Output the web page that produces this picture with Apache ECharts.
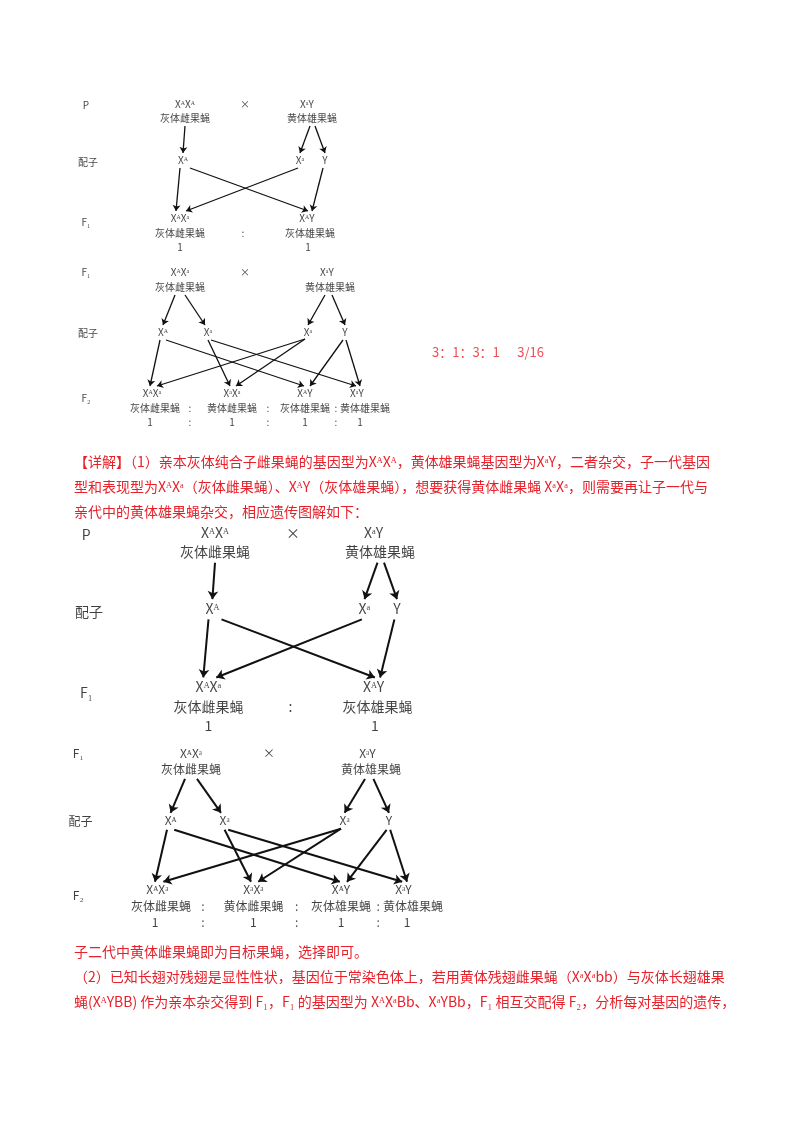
<!DOCTYPE html>
<html>
<head>
<meta charset="UTF-8">
<script src="https://cdn.jsdelivr.net/npm/echarts@6/dist/echarts.min.js"></script>
<style>html,body{margin:0;background:#fff}</style>
</head>
<body>
<div id="main" style="width:800px;height:1132px;"></div>
<script>
// 图解一：亲本杂交（小图坐标）
var cross1Labels = [
  [86, 105, 'P'], [185, 104, 'XᴬXᴬ'], [185, 118, '灰体雌果蝇'], [245, 104, '×'],
  [307, 104, 'XᵃY'], [312, 118, '黄体雄果蝇'],
  [88, 162, '配子'], [183, 160, 'Xᴬ'], [300, 160, 'Xᵃ'], [325, 160, 'Y'],
  [86, 222, 'F₁'], [180, 218, 'XᴬXᵃ'], [180, 233, '灰体雌果蝇'], [180, 247, '1'],
  [243, 233, ':'], [307, 218, 'XᴬY'], [310, 233, '灰体雄果蝇'], [308, 247, '1']
];
var cross1Arrows = [
  [[185, 126], [183, 153]], [[310, 126], [300, 153]], [[315, 126], [325, 153]],
  [[180, 168], [176, 211]], [[190, 168], [308, 211]], [[298, 168], [186, 211]], [[323, 168], [312, 211]]
];
// 图解二：F1 相互交配
var cross2Labels = [
  [86, 272, 'F₁'], [180, 272, 'XᴬXᵃ'], [180, 287, '灰体雌果蝇'], [245, 272, '×'],
  [327, 272, 'XᵃY'], [330, 287, '黄体雄果蝇'],
  [88, 333, '配子'], [163, 332, 'Xᴬ'], [208, 332, 'Xᵃ'], [308, 332, 'Xᵃ'], [345, 332, 'Y'],
  [86, 398, 'F₂'],
  [152, 393, 'XᴬXᵃ'], [155, 408, '灰体雌果蝇'], [150, 422, '1'],
  [232, 393, 'XᵃXᵃ'], [232, 408, '黄体雌果蝇'], [232, 422, '1'],
  [305, 393, 'XᴬY'], [305, 408, '灰体雄果蝇'], [305, 422, '1'],
  [357, 393, 'XᵃY'], [365, 408, '黄体雄果蝇'], [360, 422, '1'],
  [190, 408, ':'], [190, 422, ':'], [268, 408, ':'], [268, 422, ':'], [336, 408, ':'], [336, 422, ':']
];
var cross2Arrows = [
  [[175, 295], [163, 325]], [[185, 295], [205, 325]], [[325, 295], [308, 325]], [[332, 295], [345, 325]],
  [[160, 340], [150, 386]], [[166, 340], [304, 386]], [[208, 340], [230, 386]], [[211, 340], [356, 386]],
  [[305, 339], [157, 386]], [[305, 339], [236, 386]], [[343, 340], [310, 386]], [[346, 340], [360, 386]]
];
var answerText = '3：1：3：1      3/16';

var para1 = [
  '【详解】（1）亲本灰体纯合子雌果蝇的基因型为XᴬXᴬ，黄体雄果蝇基因型为XᵃY，二者杂交，子一代基因',
  '型和表现型为XᴬXᵃ（灰体雌果蝇）、XᴬY（灰体雄果蝇），想要获得黄体雌果蝇 XᵃXᵃ，则需要再让子一代与',
  '亲代中的黄体雄果蝇杂交，相应遗传图解如下：'
];
var para2 = [
  '子二代中黄体雌果蝇即为目标果蝇，选择即可。',
  '（2）已知长翅对残翅是显性性状，基因位于常染色体上，若用黄体残翅雌果蝇（XᵃXᵃbb）与灰体长翅雄果',
  '蝇(XᴬYBB) 作为亲本杂交得到 F₁，F₁ 的基因型为 XᴬXᵃBb、XᵃYBb，F₁ 相互交配得 F₂，分析每对基因的遗传，'
];

function place(list, sx, ax, sy, ay) {
  return list.map(function (p) { return { name: p[2], value: [ax + sx * p[0], ay + sy * p[1]] }; });
}
function placeLines(list, sx, ax, sy, ay) {
  return list.map(function (l) {
    return { coords: l.map(function (p) { return [ax + sx * p[0], ay + sy * p[1]]; }) };
  });
}
function textSeries(data, size, color) {
  return {
    type: 'scatter', symbolSize: 0, data: data, silent: true,
    label: { show: true, position: 'inside', formatter: '{b}', color: color || '#111', fontSize: size,
      fontFamily: 'Noto Sans CJK SC' }
  };
}
function arrowSeries(data, w, s) {
  return {
    type: 'lines', coordinateSystem: 'cartesian2d', data: data, silent: true,
    symbol: ['none', 'arrow'], symbolSize: s,
    lineStyle: { color: '#111', width: w, opacity: 1 }
  };
}

var T1 = [1.3, -25.5, 1.35, 392.6];
var T2 = [1.2, -25, 1.13, 445.6];

var graphics = [];
para1.forEach(function (t, i) {
  graphics.push({ type: 'text', left: 74, top: 455 + i * 25,
    style: { text: t, fill: '#e8202a', font: '14px "Noto Sans CJK SC"' } });
});
para2.forEach(function (t, i) {
  graphics.push({ type: 'text', left: 74, top: 945 + i * 25,
    style: { text: t, fill: '#e8202a', font: '14px "Noto Sans CJK SC"' } });
});

var chart = echarts.init(document.getElementById('main'));
chart.setOption({
  animation: false,
  grid: { left: 0, right: 0, top: 0, bottom: 0 },
  xAxis: { type: 'value', min: 0, max: 800, show: false },
  yAxis: { type: 'value', min: 0, max: 1132, inverse: true, show: false },
  graphic: graphics,
  series: [
    textSeries(place(cross1Labels, 1, 0, 1, 0), 10),
    arrowSeries(placeLines(cross1Arrows, 1, 0, 1, 0), 1.3, 6),
    textSeries(place(cross2Labels, 1, 0, 1, 0), 10),
    arrowSeries(placeLines(cross2Arrows, 1, 0, 1, 0), 1.3, 6),
    textSeries([{ name: answerText, value: [488, 352] }], 13, '#e8202a'),
    textSeries(place(cross1Labels, T1[0], T1[1], T1[2], T1[3]), 14),
    arrowSeries(placeLines(cross1Arrows, T1[0], T1[1], T1[2], T1[3]), 2, 8),
    textSeries(place(cross2Labels, T2[0], T2[1], T2[2], T2[3]), 12),
    arrowSeries(placeLines(cross2Arrows, T2[0], T2[1], T2[2], T2[3]), 2, 8)
  ]
});
</script>
</body>
</html>
